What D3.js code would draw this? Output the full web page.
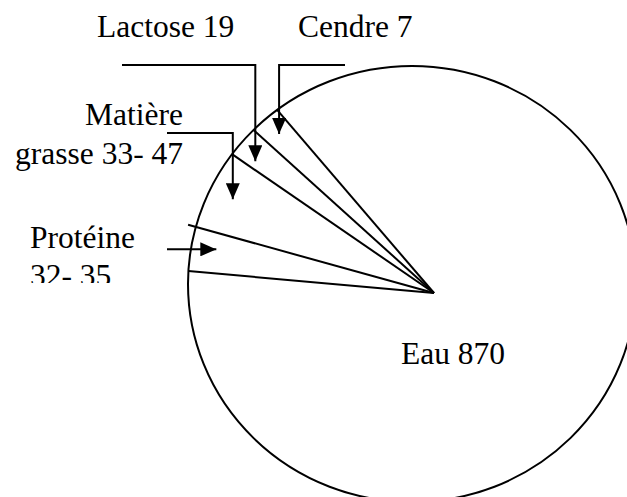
<!DOCTYPE html>
<html>
<head>
<meta charset="utf-8">
<script src="https://cdn.jsdelivr.net/npm/d3@7"></script>
<style>
body { margin: 0; background: #fff; }
.outline, .spoke, .callout { fill: none; stroke: #000; stroke-width: 2; }
.lbl { font-family: "Liberation Serif", "Times New Roman", serif; font-size: 31.5px; fill: #000; }
</style>
</head>
<body>
<script>
// slices, clockwise from the lower Protéine edge
var categories = ["Protéine", "Matière grasse", "Lactose", "Cendre", "Eau"];
// slice sizes as drawn in the picture (degrees of the circle)
var sliceDegrees = [10.4, 19.0, 7.6, 7.3, 315.7];
// label text, one or two lines each
var labelLines = [["Protéine", "32- 35"], ["Matière", "grasse 33- 47"], ["Lactose 19"], ["Cendre 7"], ["Eau 870"]];

var width = 627, height = 497;
var apex = [434, 293];                       // where the spokes meet
var rim = {cx: 412, cy: 284, rx: 224, ry: 218};
var startDeg = -84.9;

var svg = d3.select("body").append("svg")
    .attr("width", width)
    .attr("height", height);

var defs = svg.append("defs");
defs.append("marker")
    .attr("id", "head")
    .attr("markerUnits", "userSpaceOnUse")
    .attr("viewBox", "0 0 16 14")
    .attr("refX", 16).attr("refY", 7)
    .attr("markerWidth", 16).attr("markerHeight", 14)
    .attr("orient", "auto")
  .append("path")
    .attr("d", "M0,0L16,7L0,14Z")
    .attr("fill", "#000");

defs.append("clipPath").attr("id", "boxclip")
  .append("rect").attr("x", 0).attr("y", 0).attr("width", 200).attr("height", 283);

var pie = d3.pie().sort(null).value(function(d) { return d; })
    .startAngle(startDeg * Math.PI / 180)
    .endAngle(startDeg * Math.PI / 180 + 2 * Math.PI);
var arcs = pie(sliceDegrees);

// point at angle a (d3 convention) and distance r from the apex
function polar(a, r) {
  return [apex[0] + r * Math.sin(a), apex[1] - r * Math.cos(a)];
}
// where a ray from the apex meets the outline
function hitRim(a, extra) {
  var dx = Math.sin(a) / rim.rx, dy = -Math.cos(a) / rim.ry;
  var ox = (apex[0] - rim.cx) / rim.rx, oy = (apex[1] - rim.cy) / rim.ry;
  var A = dx * dx + dy * dy, B = 2 * (ox * dx + oy * dy), C = ox * ox + oy * oy - 1;
  var t = (-B + Math.sqrt(B * B - 4 * A * C)) / (2 * A);
  return polar(a, t + (extra || 0));
}

svg.append("ellipse")
    .attr("class", "outline")
    .attr("cx", rim.cx).attr("cy", rim.cy)
    .attr("rx", rim.rx).attr("ry", rim.ry);

// the upper Protéine edge pokes a little past the rim
var overshoot = [0, 8, 0, 0, 0];
svg.selectAll(".spoke")
    .data(arcs)
  .enter().append("line")
    .attr("class", "spoke")
    .attr("x1", apex[0]).attr("y1", apex[1])
    .attr("x2", function(d, i) { return hitRim(d.startAngle, overshoot[i])[0]; })
    .attr("y2", function(d, i) { return hitRim(d.startAngle, overshoot[i])[1]; });

// callouts: arrow tip sits inside each small slice
var tipR = 222;
var tipFrac = [0.6, 0.5, 0.25, 0.5];
function tip(i) {
  var d = arcs[i];
  return polar(d.startAngle + tipFrac[i] * (d.endAngle - d.startAngle), tipR);
}
var callouts = [
  function(p) { return [[167, p[1]], p]; },
  function(p) { return [[167, 133], [p[0], 133], p]; },
  function(p) { return [[122, 65], [p[0], 65], p]; },
  function(p) { return [[345, 65], [p[0], 65], p]; }
];
callouts.forEach(function(f, i) {
  svg.append("path")
      .attr("class", "callout")
      .attr("d", d3.line()(f(tip(i))))
      .attr("marker-end", "url(#head)");
});

// labels
function addLabel(lines, x, y, anchor, lh, clip) {
  var t = svg.append("text")
      .attr("class", "lbl")
      .attr("text-anchor", anchor);
  if (clip) t.attr("clip-path", "url(#boxclip)");
  lines.forEach(function(s, k) {
    t.append("tspan").attr("x", x).attr("y", y + k * lh).text(s);
  });
}
addLabel(labelLines[0], 30, 248, "start", 38, true);
addLabel(labelLines[1], 183, 125, "end", 39, false);
addLabel(labelLines[2], 97, 37, "start", 0, false);
addLabel(labelLines[3], 298, 37, "start", 0, false);
addLabel(labelLines[4], 401, 364, "start", 0, false);
</script>
</body>
</html>
